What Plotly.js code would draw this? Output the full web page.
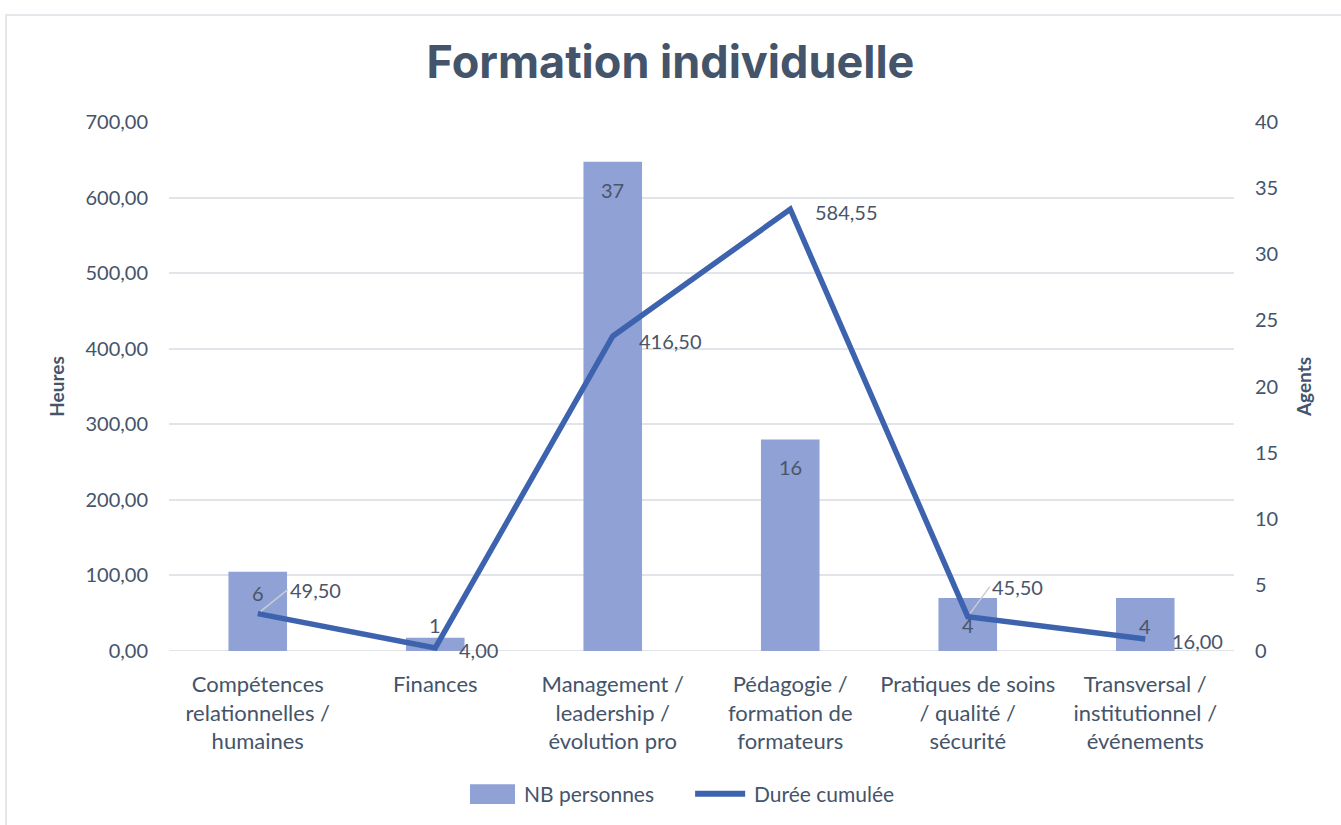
<!DOCTYPE html>
<html>
<head>
<meta charset="utf-8">
<script src="https://cdn.plot.ly/plotly-3.0.1.min.js"></script>
<style>
html,body{margin:0;padding:0;background:#fff;}
#chart{width:1341px;height:825px;}
#frame{position:absolute;left:5px;top:14px;width:1400px;height:900px;border:2px solid #e4e7eb;pointer-events:none;}
</style>
</head>
<body>
<div id="chart"></div>
<div id="frame"></div>
<script>
const categories = [
  "Compétences<br>relationnelles /<br>humaines",
  "Finances",
  "Management /<br>leadership /<br>évolution pro",
  "Pédagogie /<br>formation de<br>formateurs",
  "Pratiques de soins<br>/ qualité /<br>sécurité",
  "Transversal /<br>institutionnel /<br>événements"
];
const nbPersonnes = [6, 1, 37, 16, 4, 4];
const dureeCumulee = [49.50, 4.00, 416.50, 584.55, 45.50, 16.00];
const seriesNames = ["NB personnes", "Durée cumulée"];

const txt = "#44546a";
const lblCol = "#4a5568";
const fontFam = "Lato, 'Liberation Sans', sans-serif";
const fmt = v => v.toFixed(2).replace(".", ",");
const barColor = "#8fa1d5";
const lineColor = "#3d63ae";

// Bars on the right axis (y), line on the left axis (y2, overlaying) so the line is drawn above bars
const barTrace = {
  type: "bar", name: seriesNames[0], x: categories, y: nbPersonnes, yaxis: "y",
  marker: {color: barColor}, width: 0.33, showlegend: false
};
const lineTrace = {
  type: "scatter", mode: "lines", name: seriesNames[1], x: categories, y: dureeCumulee, yaxis: "y2",
  line: {color: lineColor, width: 5.5}, showlegend: false
};

const annotations = [];
const barLabelShift = [-21, 13, -28, -28, -27, -28];
nbPersonnes.forEach((v, i) => {
  annotations.push({
    x: categories[i], y: v, xref: "x", yref: "y", text: String(v), showarrow: false,
    yanchor: "middle", yshift: barLabelShift[i], font: {family: fontFam, size: 20, color: lblCol}
  });
});
// [xshift, yshift, leader line]
const lineLabelShift = [[30, 24, true], [22, -2, false], [24, -5, false], [23, -3, false], [22, 30, true], [25, -2, false]];
dureeCumulee.forEach((v, i) => {
  const s = lineLabelShift[i];
  if (s[2]) {
    annotations.push({
      x: categories[i], y: v, xref: "x", yref: "y2", text: fmt(v), showarrow: true,
      arrowhead: 0, arrowwidth: 1.5, arrowcolor: "#c9cdd3", ax: s[0], ay: -s[1],
      xanchor: "left", yanchor: "middle", standoff: 4,
      font: {family: fontFam, size: 20, color: lblCol}
    });
  } else {
    annotations.push({
      x: categories[i], y: v, xref: "x", yref: "y2", text: fmt(v), showarrow: false,
      xanchor: "left", yanchor: "middle", xshift: s[0], yshift: s[1],
      font: {family: fontFam, size: 20, color: lblCol}
    });
  }
});
// custom legend text
annotations.push({xref: "paper", yref: "paper", x: 0.331, y: -0.270, xanchor: "left", yanchor: "middle",
  text: seriesNames[0], showarrow: false, font: {family: fontFam, size: 21, color: txt}});
annotations.push({xref: "paper", yref: "paper", x: 0.547, y: -0.270, xanchor: "left", yanchor: "middle",
  text: seriesNames[1], showarrow: false, font: {family: fontFam, size: 21, color: txt}});

const layout = {
  width: 1341, height: 825,
  margin: {l: 169, r: 107, t: 122, b: 174},
  paper_bgcolor: "#fff", plot_bgcolor: "#fff",
  separators: ", ",
  font: {family: fontFam, size: 20, color: txt},
  showlegend: false,
  title: {text: "<b>Formation individuelle</b>", x: 0.5, xanchor: "center", y: 0.925, yanchor: "middle",
          font: {family: "Inter, Lato, sans-serif", size: 45, color: "#44546a", weight: 800}},
  xaxis: {type: "category", showgrid: false, zeroline: false, showline: false, ticks: "",
          ticklabelstandoff: 18, tickfont: {size: 22, color: txt}},
  yaxis: {range: [0, 40], dtick: 5, side: "right", showgrid: false,
          zeroline: false, showline: false, ticks: "", ticklabelstandoff: 20,
          tickfont: {size: 20, color: txt},
          title: {text: "<b>Agents</b>", font: {size: 19, color: txt}, standoff: 20}},
  yaxis2: {range: [0, 700], dtick: 100, tickformat: ".2f", overlaying: "y", side: "left",
          showgrid: true, gridcolor: "#e1e5ea", gridwidth: 2,
          zeroline: false, showline: false, ticks: "", ticklabelstandoff: 20,
          tickfont: {size: 20, color: txt},
          title: {text: "<b>Heures</b>", font: {size: 19, color: txt}, standoff: 15}},
  annotations: annotations,
  shapes: [
    {type: "line", xref: "paper", yref: "y", x0: 0, x1: 1, y0: 0, y1: 0, line: {color: "#e1e5ea", width: 2}, layer: "below"},
    {type: "rect", xref: "paper", yref: "paper", x0: 0.2826, x1: 0.3249, y0: -0.289, y1: -0.252,
     fillcolor: barColor, line: {width: 0}},
    {type: "line", xref: "paper", yref: "paper", x0: 0.494, x1: 0.541, y0: -0.270, y1: -0.270,
     line: {color: lineColor, width: 6}}
  ]
};

Plotly.newPlot("chart", [barTrace, lineTrace], layout, {displayModeBar: false, staticPlot: true});
</script>
</body>
</html>
